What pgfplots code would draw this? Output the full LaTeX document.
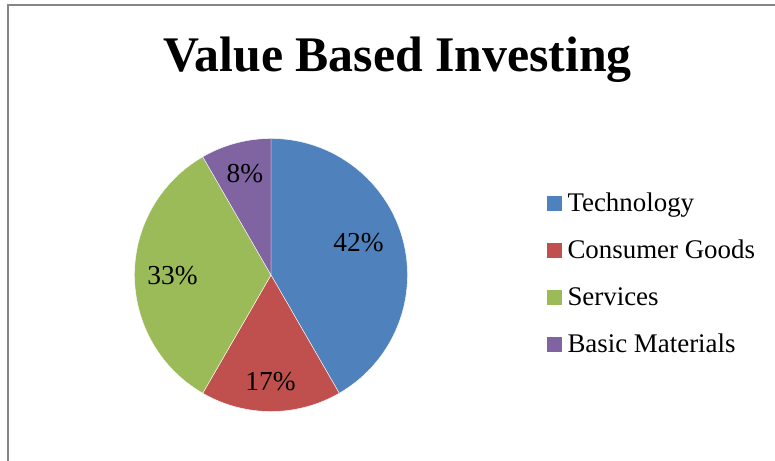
\documentclass[border=0pt]{standalone}
\usepackage{pgfplots}
\usepackage{pgfplotstable}
\pgfplotsset{compat=1.18}
\usepackage{fontspec}
\setmainfont{Liberation Serif}
\definecolor{cTech}{HTML}{4F81BD}
\definecolor{cCons}{HTML}{C0504D}
\definecolor{cServ}{HTML}{9BBB59}
\definecolor{cBasic}{HTML}{8064A2}
\definecolor{cFrame}{HTML}{868686}
\pgfplotstableread{
sector value
Technology 5
Consumer 2
Services 4
Basic 1
}\piedata
\begin{document}
\begin{tikzpicture}
\useasboundingbox (0,0) rectangle (775bp,461bp);
\pgfplotstablegetelem{0}{value}\of\piedata \let\vA\pgfplotsretval
\pgfplotstablegetelem{1}{value}\of\piedata \let\vB\pgfplotsretval
\pgfplotstablegetelem{2}{value}\of\piedata \let\vC\pgfplotsretval
\pgfplotstablegetelem{3}{value}\of\piedata \let\vD\pgfplotsretval
\pgfmathsetmacro{\total}{\vA+\vB+\vC+\vD}
\pgfmathsetmacro{\aA}{90}
\pgfmathsetmacro{\aB}{\aA-360*\vA/\total}
\pgfmathsetmacro{\aC}{\aB-360*\vB/\total}
\pgfmathsetmacro{\aD}{\aC-360*\vC/\total}
\pgfmathsetmacro{\aE}{\aD-360*\vD/\total}
\begin{axis}[
  at={(0,0)}, anchor=south west,
  hide axis, scale only axis,
  width=775bp, height=461bp,
  xmin=0, xmax=775, ymin=0, ymax=461,
  clip=false,
  legend image code/.code={\fill[#1, draw=none] (0bp,-7.5bp) rectangle (15bp,7.5bp);},
  legend cell align=left,
  legend style={draw=none, fill=none, inner sep=0pt, outer sep=0pt,
    at={(axis cs:547,271)}, anchor=north west,
    row sep=19bp, column sep=5.5bp,
    font=\fontsize{27}{32}\selectfont,
    nodes={inner sep=0pt, text height=22bp, text depth=6bp}},
]
\draw[cFrame, line width=2bp] (axis cs:8,0) -- (axis cs:8,456) -- (axis cs:775,456);
\node[anchor=base, font=\fontsize{50}{60}\selectfont\bfseries] at (axis cs:397.5,389) {Value Based Investing};
\fill[cTech, draw=white, line width=0.4bp] (axis cs:271,186) -- ++(\aA:136.5bp) arc[start angle=\aA, end angle=\aB, radius=136.5bp] -- cycle;
\fill[cCons, draw=white, line width=0.4bp] (axis cs:271,186) -- ++(\aB:136.5bp) arc[start angle=\aB, end angle=\aC, radius=136.5bp] -- cycle;
\fill[cServ, draw=white, line width=0.4bp] (axis cs:271,186) -- ++(\aC:136.5bp) arc[start angle=\aC, end angle=\aD, radius=136.5bp] -- cycle;
\fill[cBasic, draw=white, line width=0.4bp] (axis cs:271,186) -- ++(\aD:136.5bp) arc[start angle=\aD, end angle=\aE, radius=136.5bp] -- cycle;
\begin{scope}[every node/.style={anchor=base, font=\fontsize{27.5}{32}\selectfont, inner sep=0pt}]
\node at (axis cs:358.5,209) {42\%};
\node at (axis cs:270.5,70) {17\%};
\node at (axis cs:172.5,176) {33\%};
\node at (axis cs:245,278) {8\%};
\end{scope}
\addlegendimage{fill=cTech, draw=none}
\addlegendentry{Technology}
\addlegendimage{fill=cCons, draw=none}
\addlegendentry{Consumer Goods}
\addlegendimage{fill=cServ, draw=none}
\addlegendentry{Services}
\addlegendimage{fill=cBasic, draw=none}
\addlegendentry{Basic Materials}
\end{axis}
\end{tikzpicture}
\end{document}
